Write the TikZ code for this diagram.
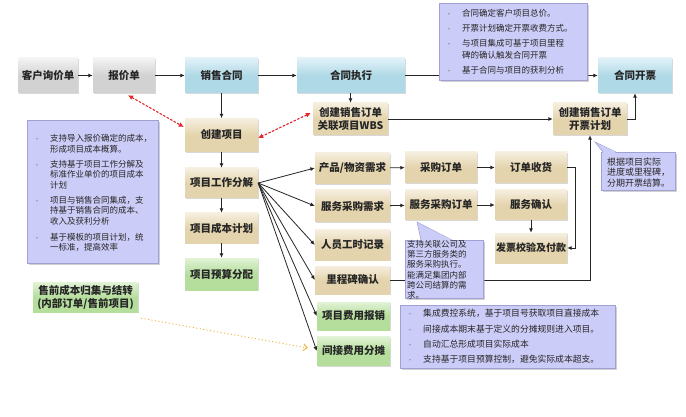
\documentclass[tikz,border=0pt]{standalone}
\usepackage{fontspec}
\setmainfont{Noto Sans CJK SC}
\usetikzlibrary{arrows.meta,shadows,calc}
\definecolor{grayM}{HTML}{D2D2D2}
\definecolor{grayL}{HTML}{F4F4F4}
\definecolor{blueM}{HTML}{B0D9E7}
\definecolor{blueL}{HTML}{E2F2F8}
\definecolor{tanM}{HTML}{E4D4AD}
\definecolor{tanL}{HTML}{F6EFDF}
\definecolor{grnM}{HTML}{B5DE9D}
\definecolor{grnL}{HTML}{E2F3D6}
\definecolor{lav}{HTML}{CCCCF8}
\definecolor{lavD}{HTML}{A0A0D2}
\definecolor{txt}{HTML}{262626}
\definecolor{redA}{HTML}{E5262B}
\definecolor{orA}{HTML}{F0B030}
\newcommand\bl{\textcolor{black!55}{\fontsize{6}{6}\selectfont •}}
\tikzset{
  sz/.style 2 args={minimum width=#1pt, minimum height=#2pt},
  box/.style={inner sep=1pt, align=center, text=txt,
    font=\bfseries\fontsize{10.5}{13}\selectfont,
    drop shadow={opacity=0.3, shadow xshift=1.2pt, shadow yshift=-1.2pt, fill=gray}},
  gbox/.style={box, top color=grayL, bottom color=grayM, middle color=grayM},
  bbox/.style={box, top color=blueL, bottom color=blueM, middle color=blueM},
  tbox/.style={box, top color=tanL, bottom color=tanM, middle color=tanM},
  gnbox/.style={box, top color=grnL, bottom color=grnM, middle color=grnM},
  arr/.style={-{Latex[length=4.5pt,width=4pt]}, line width=0.9pt, draw=black!85},
  fan/.style={arr, line width=0.8pt},
  reddash/.style={{Latex[length=5pt,width=5pt]}-{Latex[length=5pt,width=5pt]},
    draw=redA, line width=1.1pt, dash pattern=on 2.5pt off 1.5pt},
  orarrow/.style={-{Straight Barb[length=4pt,width=7pt]}, draw=orA,
    line width=0.9pt, dash pattern=on 1pt off 2.5pt},
  note/.style={fill=lav, draw=lavD, line width=0.5pt,
    drop shadow={opacity=0.45, shadow xshift=2pt, shadow yshift=-2pt, fill=gray!80}},
  ntext/.style={inner sep=0pt, anchor=north west, text=black!85, align=left},
}
\begin{document}
\begin{tikzpicture}[x=1pt,y=-1pt]
\fill[white] (0,0) rectangle (686,417);
\useasboundingbox (0,0) rectangle (686,417);

% process boxes
\node[gbox, sz={60}{35}] (ask) at (48,75.5) {客户询价单};
\node[gbox, sz={62}{35}] (quote) at (124,75.5) {报价单};
\node[bbox, sz={73}{35}] (contract) at (221.5,75.5) {销售合同};
\node[bbox, sz={108}{35}] (exec) at (351,75.5) {合同执行};
\node[bbox, sz={74}{35}] (invoice) at (635,75.5) {合同开票};
\node[tbox, sz={73}{33}] (proj) at (221.5,135) {创建项目};
\node[tbox, sz={73}{30}] (wbs) at (221.5,183) {项目工作分解};
\node[tbox, sz={73}{30}] (cost) at (221.5,228) {项目成本计划};
\node[gnbox, sz={73}{32}] (budget) at (221.5,274) {项目预算分配};
\node[tbox, sz={75}{32}] (so) at (350.5,119) {创建销售订单\\关联项目WBS};
\node[tbox, sz={74}{32}] (plan) at (590,119) {创建销售订单\\开票计划};
\node[tbox, sz={75}{31}] (mat) at (352.5,168) {产品/物资需求};
\node[tbox, sz={75}{32}] (svcreq) at (352.5,206) {服务采购需求};
\node[tbox, sz={75}{30}] (hours) at (352.5,245) {人员工时记录};
\node[tbox, sz={75}{28}] (mile) at (352.5,280) {里程碑确认};
\node[gnbox, sz={73}{28}] (exp) at (353.5,316) {项目费用报销};
\node[gnbox, sz={73}{29}] (alloc) at (353.5,351) {间接费用分摊};
\node[tbox, sz={72}{31}] (po) at (441,167.5) {采购订单};
\node[tbox, sz={72}{30}] (spo) at (441,205) {服务采购订单};
\node[tbox, sz={72}{31}] (gr) at (531,167.5) {订单收货};
\node[tbox, sz={72}{30}] (sconf) at (531,205) {服务确认};
\node[tbox, sz={72}{30}, font=\bfseries\fontsize{10}{12}\selectfont] (iv) at (531,248) {发票校验及付款};
\node[gnbox, sz={105}{30}] (presale) at (85.5,297) {售前成本归集与结转\\(内部订单/售前项目)};

% connectors
\draw[arr] (ask) -- (quote);
\draw[arr] (quote) -- (contract);
\draw[arr] (contract) -- (exec);
\draw[arr] (exec) -- (invoice);
\draw[arr] (contract) -- (proj);
\draw[arr] (so.north |- exec.south) -- (so.north);
\draw[arr] (proj) -- (wbs);
\draw[arr] (wbs) -- (cost);
\draw[arr] (cost) -- (budget);
\draw[arr] (so) -- (plan);
\draw[arr] (plan.east) -| (invoice.south);
\draw[arr] (mat) -- (po);
\draw[arr] (svcreq) -- (spo);
\draw[arr] (po) -- (gr);
\draw[arr] (spo) -- (sconf);
\draw[arr] (sconf) -- (iv);
\draw[arr] (gr.east) -- ++(8,0) |- (iv.east);
\draw[arr] (mile.east) -| (plan.south);
\foreach \t in {mat,svcreq,hours,mile,exp,alloc}
  \draw[fan] (wbs.east) -- (\t.west);
\draw[reddash] ($(quote.south)+(4,2)$) -- ($(proj.west)+(-1,-8)$);
\draw[reddash] ($(so.west)+(-2,-6)$) -- ($(proj.east)+(0,3)$);
\draw[orarrow] ($(presale.south east)+(3,6)$) -- ($(alloc.west)+(-9,-3)$);

% notes
\node[note, sz={148}{77}, anchor=north west] (topnote) at (439,3) {};
\node[ntext] (topnotetxt) at (446,8) {\fontsize{8.5}{12}\selectfont
\begin{tabular}{@{}p{10pt}@{\hspace{6pt}}l@{}}
\bl & 合同确定客户项目总价。\\[3pt]
\bl & 开票计划确定开票收费方式。\\[3pt]
\bl & 与项目集成可基于项目里程\\
    & 碑的确认触发合同开票\\[3pt]
\bl & 基于合同与项目的获利分析
\end{tabular}};

\node[note, sz={131}{143}, anchor=north west] (leftnote) at (27,120) {};
\node[ntext] (leftnotetxt) at (34,134.5) {\fontsize{8.5}{10}\selectfont
\begin{tabular}{@{}p{10pt}@{\hspace{6pt}}l@{}}
\bl & 支持导入报价确定的成本，\\
    & 形成项目成本概算。\\[5.5pt]
\bl & 支持基于项目工作分解及\\
    & 标准作业单价的项目成本\\
    & 计划\\[5.5pt]
\bl & 项目与销售合同集成，支\\
    & 持基于销售合同的成本、\\
    & 收入及获利分析\\[6pt]
\bl & 基于模板的项目计划，统\\
    & 一标准，提高效率
\end{tabular}};

\node[note, sz={215}{63}, anchor=north west] (costnote) at (400,305) {};
\node[ntext] (costnotetxt) at (407,306) {\fontsize{8.8}{15.3}\selectfont
\begin{tabular}{@{}p{10pt}@{\hspace{6pt}}l@{}}
\bl & 集成费控系统，基于项目号获取项目直接成本\\
\bl & 间接成本期末基于定义的分摊规则进入项目。\\
\bl & 自动汇总形成项目实际成本\\
\bl & 支持基于项目预算控制，避免实际成本超支。
\end{tabular}};

\node[note, sz={78}{58}, anchor=north west] (spnote) at (405,240) {};
\fill[lav] (421,240.8) -- (417,222) -- (452,240.8) -- cycle;
\draw[lavD, line width=0.5pt] (421,240) -- (417,222) -- (452,240);
\node[ntext] (spnotetxt) at (407,240.5) {\fontsize{8.5}{9.7}\selectfont
\begin{tabular}{@{}l@{}}
支持关联公司及\\ 第三方服务类的\\ 服务采购执行。\\ 能满足集团内部\\ 跨公司结算的需\\ 求。
\end{tabular}};

\node[note, sz={74}{38}, anchor=north west] (plannote) at (601,152) {};
\fill[lav] (603,152.8) -- (595,142) -- (616,152.8) -- cycle;
\draw[lavD, line width=0.5pt] (603,152) -- (595,142) -- (616,152);
\node[ntext] (plannotetxt) at (607,157.5) {\fontsize{9}{10}\selectfont
\begin{tabular}{@{}l@{}}
根据项目实际\\ 进度或里程碑，\\ 分期开票结算。
\end{tabular}};
\end{tikzpicture}
\end{document}
